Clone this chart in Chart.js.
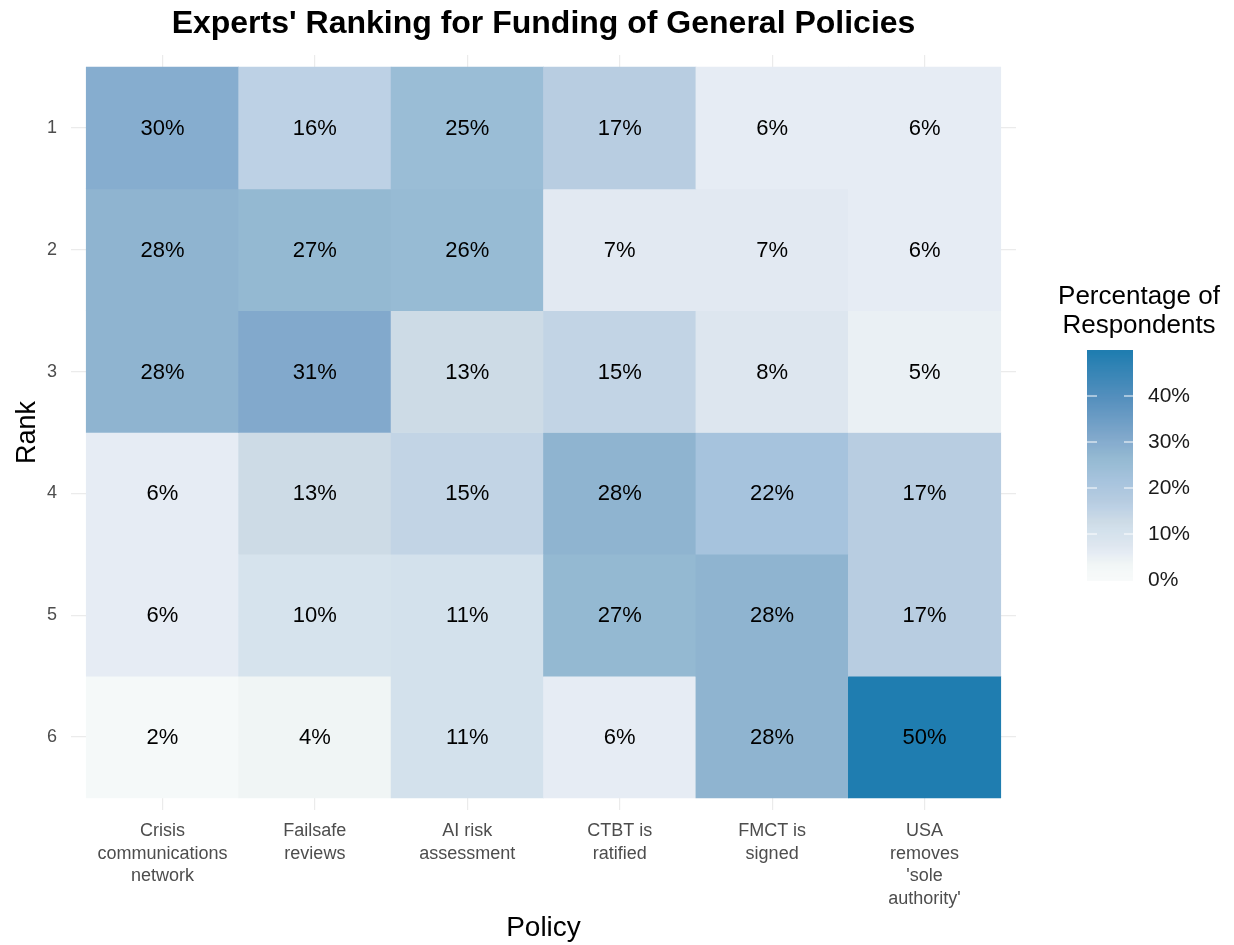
<!DOCTYPE html>
<html lang="en">
<head>
<meta charset="UTF-8">
<title>Experts' Ranking for Funding of General Policies</title>
<script src="https://cdn.jsdelivr.net/npm/chart.js"></script>
<style>
  html, body { margin: 0; padding: 0; background: #fff; }
</style>
</head>
<body>
<canvas id="heat" width="1234" height="945"></canvas>
<script>
// policies on x, wrapped the way the original axis wraps them
const policies = [
    ['Crisis', 'communications', 'network'],
    ['Failsafe', 'reviews'],
    ['AI risk', 'assessment'],
    ['CTBT is', 'ratified'],
    ['FMCT is', 'signed'],
    ['USA', 'removes', "'sole", "authority'"]
];
const ranks = [1, 2, 3, 4, 5, 6];

// percentage of respondents, one array per rank
const rank1 = [30, 16, 25, 17, 6, 6];
const rank2 = [28, 27, 26, 7, 7, 6];
const rank3 = [28, 31, 13, 15, 8, 5];
const rank4 = [6, 13, 15, 28, 22, 17];
const rank5 = [6, 10, 11, 27, 28, 17];
const rank6 = [2, 4, 11, 6, 28, 50];
const rankValues = [rank1, rank2, rank3, rank4, rank5, rank6];

const legendTicks = [0, 10, 20, 30, 40];
const legendMax = 50;

const FONT = "'Liberation Sans', Arial, Helvetica, sans-serif";

// fill scale (value -> rgb)
const colorStops = [
    [0, [248, 250, 250]], [2, [245, 249, 249]], [4, [240, 245, 245]],
    [5, [234, 240, 244]], [6, [230, 236, 244]], [8, [221, 230, 239]],
    [11, [211, 225, 236]], [13, [205, 219, 230]], [16, [189, 209, 229]],
    [17, [184, 205, 225]], [22, [166, 195, 221]], [25, [154, 189, 214]],
    [27, [148, 185, 210]], [28, [143, 180, 208]], [30, [134, 173, 207]],
    [31, [130, 169, 204]], [40, [84, 143, 189]], [50, [31, 125, 176]]
];
function fillFor(v) {
    for (let i = 1; i < colorStops.length; i++) {
        const [v1, c1] = colorStops[i];
        const [v0, c0] = colorStops[i - 1];
        if (v <= v1) {
            const t = (v - v0) / (v1 - v0);
            const c = c0.map((x, k) => Math.round(x + (c1[k] - x) * t));
            return `rgb(${c[0]},${c[1]},${c[2]})`;
        }
    }
    const c = colorStops[colorStops.length - 1][1];
    return `rgb(${c[0]},${c[1]},${c[2]})`;
}

// one dataset per rank, tiles are floating bars spanning rank +/- 0.5
const datasets = ranks.map((r, i) => ({
    label: 'Rank ' + r,
    values: rankValues[i],
    data: rankValues[i].map((v, j) => ({ x: j + 1, y: [r - 0.5, r + 0.5] })),
    backgroundColor: rankValues[i].map(v => fillFor(v)),
    borderWidth: 0,
    grouped: false,
    barPercentage: 1,
    categoryPercentage: 1
}));

// percentages written in the middle of each tile
const cellLabels = {
    id: 'cellLabels',
    afterDatasetsDraw(chart) {
        const ctx = chart.ctx;
        ctx.save();
        ctx.font = `22px ${FONT}`;
        ctx.fillStyle = '#000';
        ctx.textAlign = 'center';
        ctx.textBaseline = 'middle';
        chart.data.datasets.forEach((ds, i) => {
            chart.getDatasetMeta(i).data.forEach((bar, j) => {
                ctx.fillText(ds.values[j] + '%', bar.x, (bar.y + bar.base) / 2 + 1);
            });
        });
        ctx.restore();
    }
};

// title centred over the panel, plus the colour bar legend
const decorations = {
    id: 'decorations',
    afterDraw(chart) {
        const ctx = chart.ctx;
        const area = chart.chartArea;
        ctx.save();
        ctx.fillStyle = '#000';
        ctx.textAlign = 'center';
        ctx.textBaseline = 'middle';
        ctx.font = `bold 32px ${FONT}`;
        ctx.fillText("Experts' Ranking for Funding of General Policies", (area.left + area.right) / 2, 24);

        // legend title
        ctx.font = `26px ${FONT}`;
        ctx.fillText('Percentage of', 1139, 297);
        ctx.fillText('Respondents', 1139, 326);

        // colour bar
        const bx = 1087, bw = 46, top = 350, bottom = 580;
        const pxPer = (bottom - top) / legendMax;
        for (let v = 0; v < legendMax; v += 0.25) {
            ctx.fillStyle = fillFor(v + 0.125);
            const y0 = bottom - (v + 0.25) * pxPer;
            ctx.fillRect(bx, Math.floor(y0), bw, Math.ceil(0.25 * pxPer) + 1);
        }
        ctx.strokeStyle = '#fff';
        ctx.lineWidth = 1;
        ctx.textAlign = 'left';
        ctx.font = `21px ${FONT}`;
        legendTicks.forEach(t => {
            const y = bottom - t * pxPer;
            if (t > 0) {
                ctx.beginPath();
                ctx.moveTo(bx, y); ctx.lineTo(bx + 10, y);
                ctx.moveTo(bx + bw - 9, y); ctx.lineTo(bx + bw, y);
                ctx.stroke();
            }
            ctx.fillStyle = '#1a1a1a';
            ctx.fillText(t + '%', 1148, y);
        });
        ctx.restore();
    }
};

const chart = new Chart(document.getElementById('heat'), {
    type: 'bar',
    data: { datasets: datasets },
    options: {
        responsive: false,
        animation: false,
        devicePixelRatio: 1,
        layout: { padding: { top: 55, right: 218, bottom: 0, left: 0 } },
        plugins: {
            legend: { display: false },
            tooltip: { enabled: false },
            title: { display: false }
        },
        scales: {
            x: {
                type: 'linear',
                offset: false,
                min: 0.4,
                max: 6.6,
                afterBuildTicks: s => { s.ticks = policies.map((p, i) => ({ value: i + 1 })); },
                afterFit: s => { s.height = 135; },
                ticks: {
                    autoSkip: false,
                    maxRotation: 0,
                    padding: 10,
                    color: '#4d4d4d',
                    font: { family: FONT, size: 18, lineHeight: 1.25 },
                    callback: v => policies[Math.round(v) - 1]
                },
                grid: { color: '#ebebeb', lineWidth: 1.2, drawTicks: false, offset: false },
                border: { display: false },
                title: {
                    display: true,
                    text: 'Policy',
                    color: '#000',
                    font: { family: FONT, size: 28 },
                    padding: { top: 0, bottom: 0 }
                }
            },
            y: {
                type: 'linear',
                reverse: true,
                min: 0.4,
                max: 6.6,
                afterBuildTicks: s => { s.ticks = ranks.map(r => ({ value: r })); },
                afterFit: s => { s.width = 71; },
                ticks: {
                    padding: 14,
                    color: '#4d4d4d',
                    font: { family: FONT, size: 18 },
                    callback: v => String(v)
                },
                grid: { color: '#ebebeb', lineWidth: 1.2, drawTicks: false, offset: false },
                border: { display: false },
                title: {
                    display: true,
                    text: 'Rank',
                    color: '#000',
                    font: { family: FONT, size: 27 },
                    padding: { top: 11, bottom: 0 }
                }
            }
        }
    },
    plugins: [cellLabels, decorations]
});
</script>
</body>
</html>
